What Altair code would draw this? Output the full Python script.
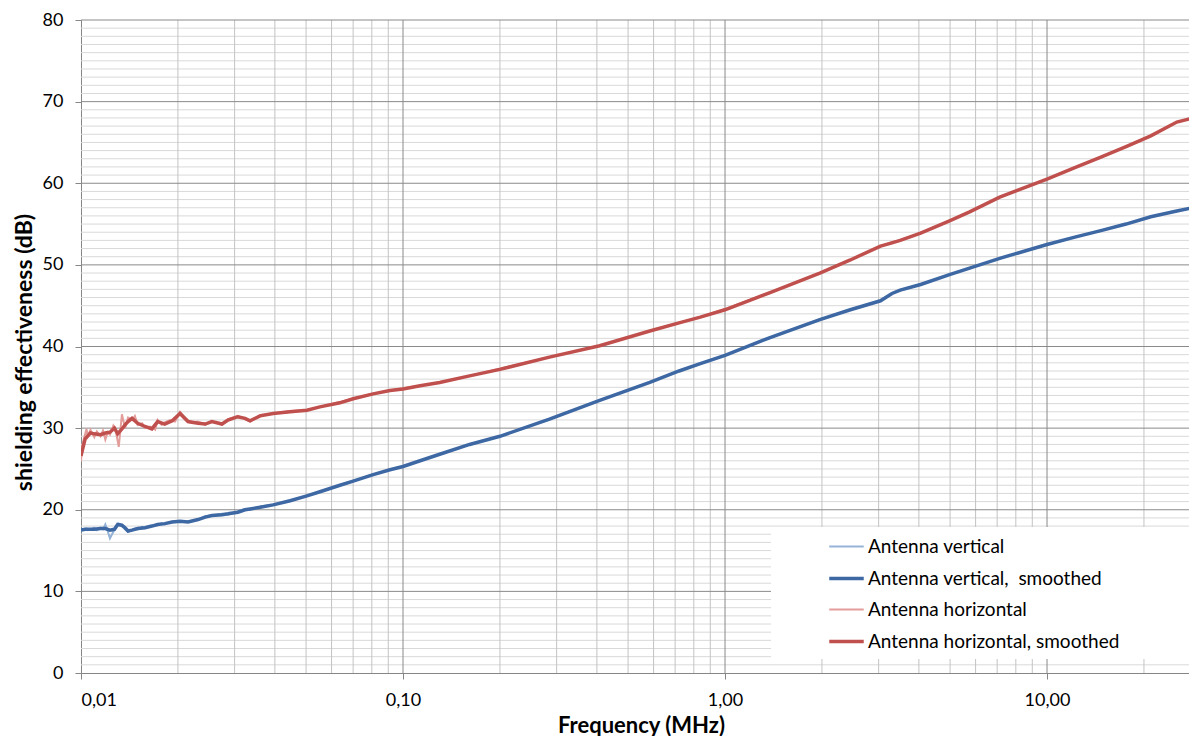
import altair as alt
import pandas as pd

# ---- data ----
freq = [0.0100, 0.0103, 0.0107, 0.0110, 0.0115, 0.0119, 0.0123, 0.0127, 0.0130, 0.0134,
        0.0137, 0.0140, 0.0144, 0.0150, 0.0158, 0.0166, 0.0173, 0.0182, 0.0192, 0.0203,
        0.0215, 0.0231, 0.0243, 0.0255, 0.0274, 0.0286, 0.0307, 0.0323, 0.0335, 0.0360,
        0.0395, 0.0446, 0.0503, 0.0552, 0.0637, 0.0700, 0.0808, 0.0911, 0.100, 0.113,
        0.130, 0.161, 0.200, 0.285, 0.408, 0.584, 0.720, 0.838, 1.00, 1.38, 1.97,
        2.45, 3.04, 3.30, 3.50, 4.05, 4.98, 5.75, 7.13, 10.0, 12.2,
        14.7, 17.6, 21.0, 25.3, 29.2]

horiz_smooth = [26.6, 28.7, 29.4, 29.3, 29.2, 29.4, 29.5, 30.0, 29.3, 29.9,
                30.4, 30.8, 31.2, 30.6, 30.2, 29.9, 30.8, 30.5, 30.9, 31.8,
                30.8, 30.6, 30.5, 30.8, 30.5, 31.0, 31.4, 31.2, 30.9, 31.5,
                31.8, 32.0, 32.2, 32.6, 33.1, 33.6, 34.2, 34.6, 34.8, 35.2,
                35.6, 36.4, 37.2, 38.7, 40.1, 41.9, 42.9, 43.6, 44.5, 46.6, 49.0,
                50.6, 52.3, 52.7, 53.0, 53.9, 55.4, 56.5, 58.3, 60.5, 61.9,
                63.2, 64.5, 65.8, 67.5, 68.1]

vert_smooth = [17.5, 17.6, 17.6, 17.6, 17.7, 17.7, 17.5, 17.6, 18.2, 18.1,
               17.8, 17.4, 17.5, 17.7, 17.8, 18.0, 18.2, 18.3, 18.5, 18.6,
               18.5, 18.8, 19.1, 19.3, 19.4, 19.5, 19.7, 20.0, 20.1, 20.3,
               20.6, 21.1, 21.7, 22.2, 23.0, 23.5, 24.3, 24.9, 25.3, 26.0,
               26.8, 28.0, 29.0, 31.1, 33.4, 35.6, 37.0, 37.9, 38.9, 41.1, 43.3,
               44.5, 45.6, 46.5, 46.9, 47.6, 48.8, 49.6, 50.8, 52.5, 53.4,
               54.2, 55.0, 55.9, 56.6, 57.1]

raw_freq = [0.0100, 0.0101, 0.0104, 0.0105, 0.0107, 0.0110, 0.0112, 0.0115, 0.0117, 0.0119,
            0.0121, 0.0123, 0.0126, 0.0128, 0.0131, 0.0134, 0.0137, 0.0140, 0.0144, 0.0147,
            0.0150, 0.0155, 0.0158, 0.0164, 0.0170, 0.0173, 0.0178, 0.0182, 0.0189, 0.0196,
            0.0203, 0.0210, 0.0218, 0.0231, 0.0243, 0.0255, 0.0274, 0.0286, 0.0307, 0.0323,
            0.0335, 0.0360,
            0.0395, 0.0446, 0.0503, 0.0552, 0.0637, 0.0700, 0.0808, 0.0911, 0.100, 0.113,
            0.130, 0.161, 0.200, 0.285, 0.408, 0.584, 0.720, 0.838, 1.00, 1.38, 1.97,
            2.45, 3.04, 3.30, 3.50, 4.05, 4.98, 5.75, 7.13, 10.0, 12.2,
            14.7, 17.6, 21.0, 25.3, 29.2]

horiz_raw = [26.0, 28.0, 29.9, 29.0, 29.8, 28.9, 29.6, 29.0, 29.7, 28.6,
             29.5, 29.2, 30.3, 29.8, 27.7, 31.7, 30.0, 31.3, 31.0, 31.5,
             30.4, 30.6, 30.0, 30.2, 29.8, 31.0, 30.4, 30.7, 31.0, 30.8,
             32.0, 31.3, 30.7, 30.8, 30.4, 30.9, 30.4, 31.1, 31.5, 31.1,
             30.8, 31.6,
             31.8, 32.1, 32.2, 32.6, 33.2, 33.6, 34.2, 34.6, 34.9, 35.2,
             35.6, 36.4, 37.3, 38.7, 40.1, 41.9, 42.9, 43.6, 44.6, 46.6, 49.0,
             50.6, 52.3, 52.8, 53.0, 53.9, 55.4, 56.5, 58.3, 60.5, 61.9,
             63.2, 64.5, 65.8, 67.5, 68.1]

vert_raw = [17.4, 17.5, 17.7, 17.5, 17.6, 17.8, 17.5, 17.8, 17.6, 18.2,
            17.4, 16.5, 17.3, 17.9, 18.3, 18.0, 17.6, 17.3, 17.5, 17.7,
            17.6, 17.9, 17.8, 18.0, 18.1, 18.2, 18.3, 18.2, 18.5, 18.6,
            18.6, 18.5, 18.6, 18.8, 19.2, 19.3, 19.5, 19.4, 19.8, 20.1,
            20.0, 20.4,
            20.6, 21.1, 21.7, 22.2, 23.0, 23.5, 24.3, 24.9, 25.3, 26.0,
            26.8, 28.0, 29.0, 31.1, 33.4, 35.6, 37.0, 37.9, 38.9, 41.1, 43.3,
            44.5, 45.6, 46.5, 46.9, 47.6, 48.8, 49.6, 50.8, 52.5, 53.4,
            54.2, 55.0, 55.9, 56.6, 57.1]

series_names = ["Antenna vertical", "Antenna vertical,  smoothed",
                "Antenna horizontal", "Antenna horizontal, smoothed"]
series_colors = ["#95b3d7", "#3d68a3", "#e39d9b", "#c0504d"]
series_widths = [2.0, 3.5, 2.0, 3.5]

x_ticks = [0.01, 0.1, 1, 10]
y_ticks = [0, 10, 20, 30, 40, 50, 60, 70, 80]
x_minor = [0.02, 0.03, 0.04, 0.05, 0.06, 0.07, 0.08, 0.09,
           0.2, 0.3, 0.4, 0.5, 0.6, 0.7, 0.8, 0.9,
           2, 3, 4, 5, 6, 7, 8, 9, 20]
x_major = [0.1, 1, 10]
y_major = [10, 20, 30, 40, 50, 60, 70, 80]
y_minor = [v for v in range(1, 80) if v % 10 != 0]

# ---- tables ----
raw_df = pd.concat([
    pd.DataFrame({"f": raw_freq, "se": vert_raw, "series": series_names[0]}),
    pd.DataFrame({"f": raw_freq, "se": horiz_raw, "series": series_names[2]}),
])
smooth_df = pd.concat([
    pd.DataFrame({"f": freq, "se": vert_smooth, "series": series_names[1]}),
    pd.DataFrame({"f": freq, "se": horiz_smooth, "series": series_names[3]}),
])

xscale = alt.Scale(type="log", domain=[0.01, 27.6], nice=False)
yscale = alt.Scale(domain=[0, 80], nice=False)

x_axis = alt.Axis(values=x_ticks,
                  labelExpr="replace(format(datum.value, '.2f'), '.', ',')",
                  tickSize=6, labelPadding=12, titlePadding=6, titleFontSize=22,
                  titleX=560,
                  title="Frequency (MHz)", titleFontWeight="bold")
y_axis = alt.Axis(values=y_ticks, tickSize=6, labelPadding=12, titlePadding=6,
                  titleFontSize=23, titleY=332,
                  title="shielding effectiveness (dB)", titleFontWeight="bold")

# legend label: keep double space visible, and widen the white box on the right
legend_label = ("replace(datum.label, '  ', ' \u00a0') + '" + "\u00a0" * 14 + "\u200b'")
color_enc = alt.Color("series:N",
                      scale=alt.Scale(domain=series_names, range=series_colors),
                      sort=series_names,
                      legend=alt.Legend(title=None, labelExpr=legend_label))
width_enc = alt.StrokeWidth("series:N",
                            scale=alt.Scale(type="ordinal", domain=series_names, range=series_widths),
                            sort=series_names,
                            legend=alt.Legend(title=None, labelExpr=legend_label))

def vrules(vals, color):
    return alt.Chart(pd.DataFrame({"f": vals})).mark_rule(color=color, strokeWidth=1).encode(
        x=alt.X("f:Q", scale=xscale, axis=x_axis))

def hrules(vals, color):
    return alt.Chart(pd.DataFrame({"se": vals})).mark_rule(color=color, strokeWidth=1).encode(
        y=alt.Y("se:Q", scale=yscale, axis=y_axis))

def lines(df):
    return alt.Chart(df).mark_line(clip=True).encode(
        x=alt.X("f:Q", scale=xscale, axis=x_axis),
        y=alt.Y("se:Q", scale=yscale, axis=y_axis),
        color=color_enc,
        strokeWidth=width_enc,
        detail="series:N",
        order="f:Q",
    )

chart = alt.layer(
    hrules(y_minor, "#d9d9d9"),
    vrules(x_minor, "#c3c3c3"),
    hrules(y_major, "#8a8a8a"),
    vrules(x_major, "#8a8a8a"),
    lines(raw_df),
    lines(smooth_df),
).properties(
    width=1108, height=653,
    autosize=alt.AutoSizeParams(type="none"),
    padding={"left": 73, "top": 12, "right": 0, "bottom": 63},
).configure_view(stroke=None).configure_axis(
    labelFont="Lato", titleFont="Lato", labelFontSize=18,
    labelColor="#000000", titleColor="#000000",
    domainColor="#868686", tickColor="#868686", domainWidth=1, tickWidth=1, grid=False,
).configure_legend(
    orient="none", legendX=690, legendY=507,
    fillColor="white", padding=7,
    symbolType="M-1.5,0H1.5", symbolSize=529, symbolOffset=55,
    labelOffset=8, rowPadding=8,
    labelFont="Lato", labelFontSize=19, labelColor="#000000", labelLimit=0,
)

chart.save("out.html", embed_options={"renderer": "svg", "actions": False})
